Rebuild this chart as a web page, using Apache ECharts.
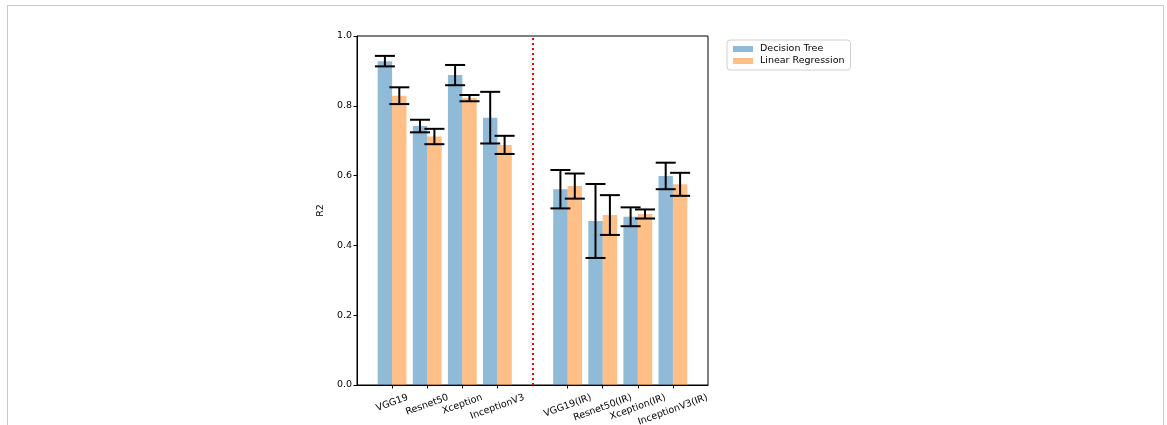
<!DOCTYPE html>
<html>
<head>
<meta charset="utf-8">
<script src="https://cdn.jsdelivr.net/npm/echarts@6/dist/echarts.min.js"></script>
<style>
html,body{margin:0;padding:0;background:#fff;}
#chart{position:absolute;left:0;top:0;width:1167px;height:425px;}
#frame{position:absolute;left:7px;top:5px;width:1155px;height:440px;border:1.5px solid #c8c8c8;border-bottom:none;pointer-events:none;}
</style>
</head>
<body>
<div id="chart"></div>
<div id="frame"></div>
<script>
// ---- data ----
const models = ['VGG19', 'Resnet50', 'Xception', 'InceptionV3', 'VGG19(IR)', 'Resnet50(IR)', 'Xception(IR)', 'InceptionV3(IR)'];
const dtMean = [0.928, 0.742, 0.888, 0.766, 0.561, 0.470, 0.482, 0.599];
const dtErr  = [0.015, 0.018, 0.029, 0.074, 0.055, 0.106, 0.027, 0.038];
const lrMean = [0.829, 0.712, 0.822, 0.688, 0.570, 0.487, 0.490, 0.575];
const lrErr  = [0.024, 0.022, 0.009, 0.026, 0.036, 0.057, 0.013, 0.033];
const yTicks = [0, 0.2, 0.4, 0.6, 0.8, 1.0];
const seriesNames = ['Decision Tree', 'Linear Regression'];

// axis categories: padding slot, 4 models, gap slot, 4 IR models, padding slot
const cats = ['pad0'].concat(models.slice(0, 4), ['gap'], models.slice(4), ['pad1']);
const modelIdx = models.map(m => cats.indexOf(m));
const gapIdx = cats.indexOf('gap');

const FONT = 'DejaVu Sans';
const FS = 9.5;
const BARW = 14.4;

function barData(vals) {
  const arr = cats.map(() => '-');
  vals.forEach((v, i) => { arr[modelIdx[i]] = v; });
  return arr;
}
function errData(means, errs) {
  return means.map((m, i) => [modelIdx[i], m - errs[i], m + errs[i]]);
}
function errRender(offset) {
  return function (params, api) {
    const lo = api.coord([api.value(0), api.value(1)]);
    const hi = api.coord([api.value(0), api.value(2)]);
    const x = lo[0] + offset;
    const cap = 10;
    const style = { stroke: '#000', lineWidth: 2 };
    return {
      type: 'group',
      children: [
        { type: 'line', shape: { x1: x, y1: lo[1], x2: x, y2: hi[1] }, style: style },
        { type: 'line', shape: { x1: x - cap, y1: lo[1], x2: x + cap, y2: lo[1] }, style: style },
        { type: 'line', shape: { x1: x - cap, y1: hi[1], x2: x + cap, y2: hi[1] }, style: style }
      ]
    };
  };
}

// measure text for matplotlib-style centred rotated tick labels
const ctx = document.createElement('canvas').getContext('2d');
ctx.font = FS + 'px "' + FONT + '"';
const ROT = 20 * Math.PI / 180;
function labelRender(params, api) {
  const idx = api.value(0);
  const name = cats[idx];
  const p = api.coord([idx, 0]);
  const w = ctx.measureText(name).width;
  const h = FS * 1.17;
  const bboxH = w * Math.sin(ROT) + h * Math.cos(ROT);
  return {
    type: 'text',
    x: p[0],
    y: p[1] + 3.5 + 3.5 + bboxH / 2,
    rotation: ROT,
    style: {
      text: name,
      fill: '#000',
      font: FS + 'px "' + FONT + '"',
      textAlign: 'center',
      textVerticalAlign: 'middle'
    }
  };
}

const chart = echarts.init(document.getElementById('chart'), null, { renderer: 'canvas' });
chart.setOption({
  backgroundColor: '#fff',
  animation: false,
  textStyle: { fontFamily: FONT },
  grid: { left: 357, top: 36, width: 351, height: 349, show: true, borderColor: '#000', borderWidth: 1, containLabel: false },
  legend: {
    data: seriesNames,
    orient: 'vertical',
    left: 727, top: 40,
    padding: [4, 6, 4, 6],
    itemWidth: 20, itemHeight: 6, itemGap: 2,
    icon: 'rect',
    borderColor: '#d0d0d0', borderWidth: 1, borderRadius: 3,
    textStyle: { fontSize: FS, color: '#000', fontFamily: FONT, padding: [0, 0, 0, 2] }
  },
  xAxis: {
    type: 'category',
    data: cats,
    boundaryGap: false,
    axisLine: { show: true, lineStyle: { color: '#000', width: 1 } },
    axisTick: { show: true, length: 3.5, lineStyle: { color: '#000' }, interval: (i, v) => models.indexOf(v) >= 0 },
    axisLabel: { show: false },
    splitLine: { show: false }
  },
  yAxis: {
    type: 'value',
    min: yTicks[0], max: yTicks[yTicks.length - 1], interval: 0.2,
    name: 'R2', nameLocation: 'middle', nameGap: 31,
    nameTextStyle: { fontSize: FS, color: '#000', fontFamily: FONT },
    axisLine: { show: true, lineStyle: { color: '#000', width: 1 } },
    axisTick: { show: true, length: 3.5, lineStyle: { color: '#000' } },
    axisLabel: { fontSize: FS, color: '#000', margin: 5, formatter: v => v.toFixed(1), fontFamily: FONT },
    splitLine: { show: false }
  },
  series: [
    {
      name: seriesNames[0], type: 'bar', data: barData(dtMean),
      barWidth: BARW, barGap: '0%',
      itemStyle: { color: 'rgba(31,119,180,0.5)' }
    },
    {
      name: seriesNames[1], type: 'bar', data: barData(lrMean),
      barWidth: BARW, barGap: '0%',
      itemStyle: { color: 'rgba(255,127,14,0.5)' }
    },
    {
      name: 'divider', type: 'line', data: [], silent: true,
      markLine: {
        silent: true, symbol: 'none', label: { show: false },
        lineStyle: { color: '#ff0000', type: [2, 3], width: 2 },
        data: [{ xAxis: gapIdx }]
      }
    },
    { name: 'dtErr', type: 'custom', renderItem: errRender(-BARW / 2), data: errData(dtMean, dtErr), encode: { x: 0, y: [1, 2] }, z: 5, silent: true },
    { name: 'lrErr', type: 'custom', renderItem: errRender(BARW / 2), data: errData(lrMean, lrErr), encode: { x: 0, y: [1, 2] }, z: 5, silent: true },
    { name: 'labels', type: 'custom', renderItem: labelRender, data: modelIdx.map(i => [i]), encode: { x: 0 }, clip: false, silent: true }
  ]
});
</script>
</body>
</html>
